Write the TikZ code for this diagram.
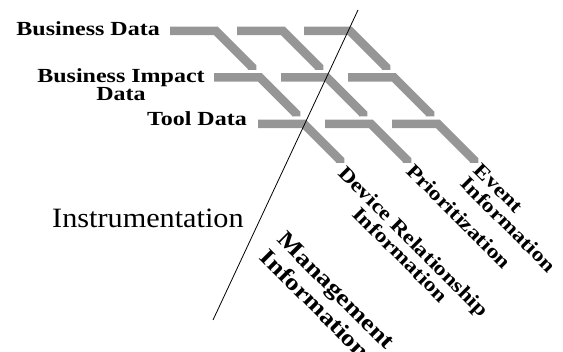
\documentclass[tikz,border=0pt]{standalone}
\usepackage{fontspec}
\setmainfont{Liberation Serif}
\newfontfamily\lblfont{Liberation Serif}[FakeStretch=1.2]
\newfontfamily\bigfont{Liberation Serif}[FakeStretch=1.08]
\usetikzlibrary{positioning}
\definecolor{bargray}{RGB}{150,150,150}

\begin{document}
\begin{tikzpicture}[x=1pt,y=-1pt,%
                    bar/.style={draw=bargray,line width=8.5pt,line join=miter},
                    rowlabel/.style={font=\lblfont\bfseries\fontsize{20}{18}\selectfont,inner sep=0},
                    outlabel/.style={font=\lblfont\bfseries\fontsize{20}{19}\selectfont,inner sep=0,rotate=-45,anchor=north west},
        ]
        \useasboundingbox (0,0) rectangle (563,352);
%
        \foreach \r in {0,1,2}
            \foreach \c in {0,1,2} {
                \pgfmathsetmacro\xs{170+44*\r+67*\c}
                \pgfmathsetmacro\ys{31+46.5*\r}
                \draw[bar] (\xs,\ys) -- ++(46,0) -- ++(36,36) -- ++(0,3);
            }
%
        \node[rowlabel,anchor=base east] (bizdata) at (160,35.7) {Business Data};
        \node[rowlabel,align=center,anchor=north] (impact) at (121,68) {Business Impact\\Data};
        \node[rowlabel,anchor=base east] (tooldata) at (247,126) {Tool Data};
        \node[font=\bigfont\fontsize{28}{30}\selectfont,inner sep=0,anchor=base west] (instr) at (52,228) {Instrumentation};
%
        \node[outlabel,align=center] (devrel) at (347,164) {Device Relationship\\Information};
        \node[outlabel] (prio) at (415,162) {Prioritization};
        \node[outlabel,align=left] (event) at (482,162) {Event\\Information};
        \node[outlabel,align=left,font=\lblfont\bfseries\fontsize{23}{25}\selectfont] (mgmt) at (287,230) {Management\\Information};
%
        \coordinate (top) at (358,10);
        \coordinate (bottom) at (213,320);
        \draw[line width=0.8pt] (top) -- (bottom);
    \end{tikzpicture}
\end{document}
